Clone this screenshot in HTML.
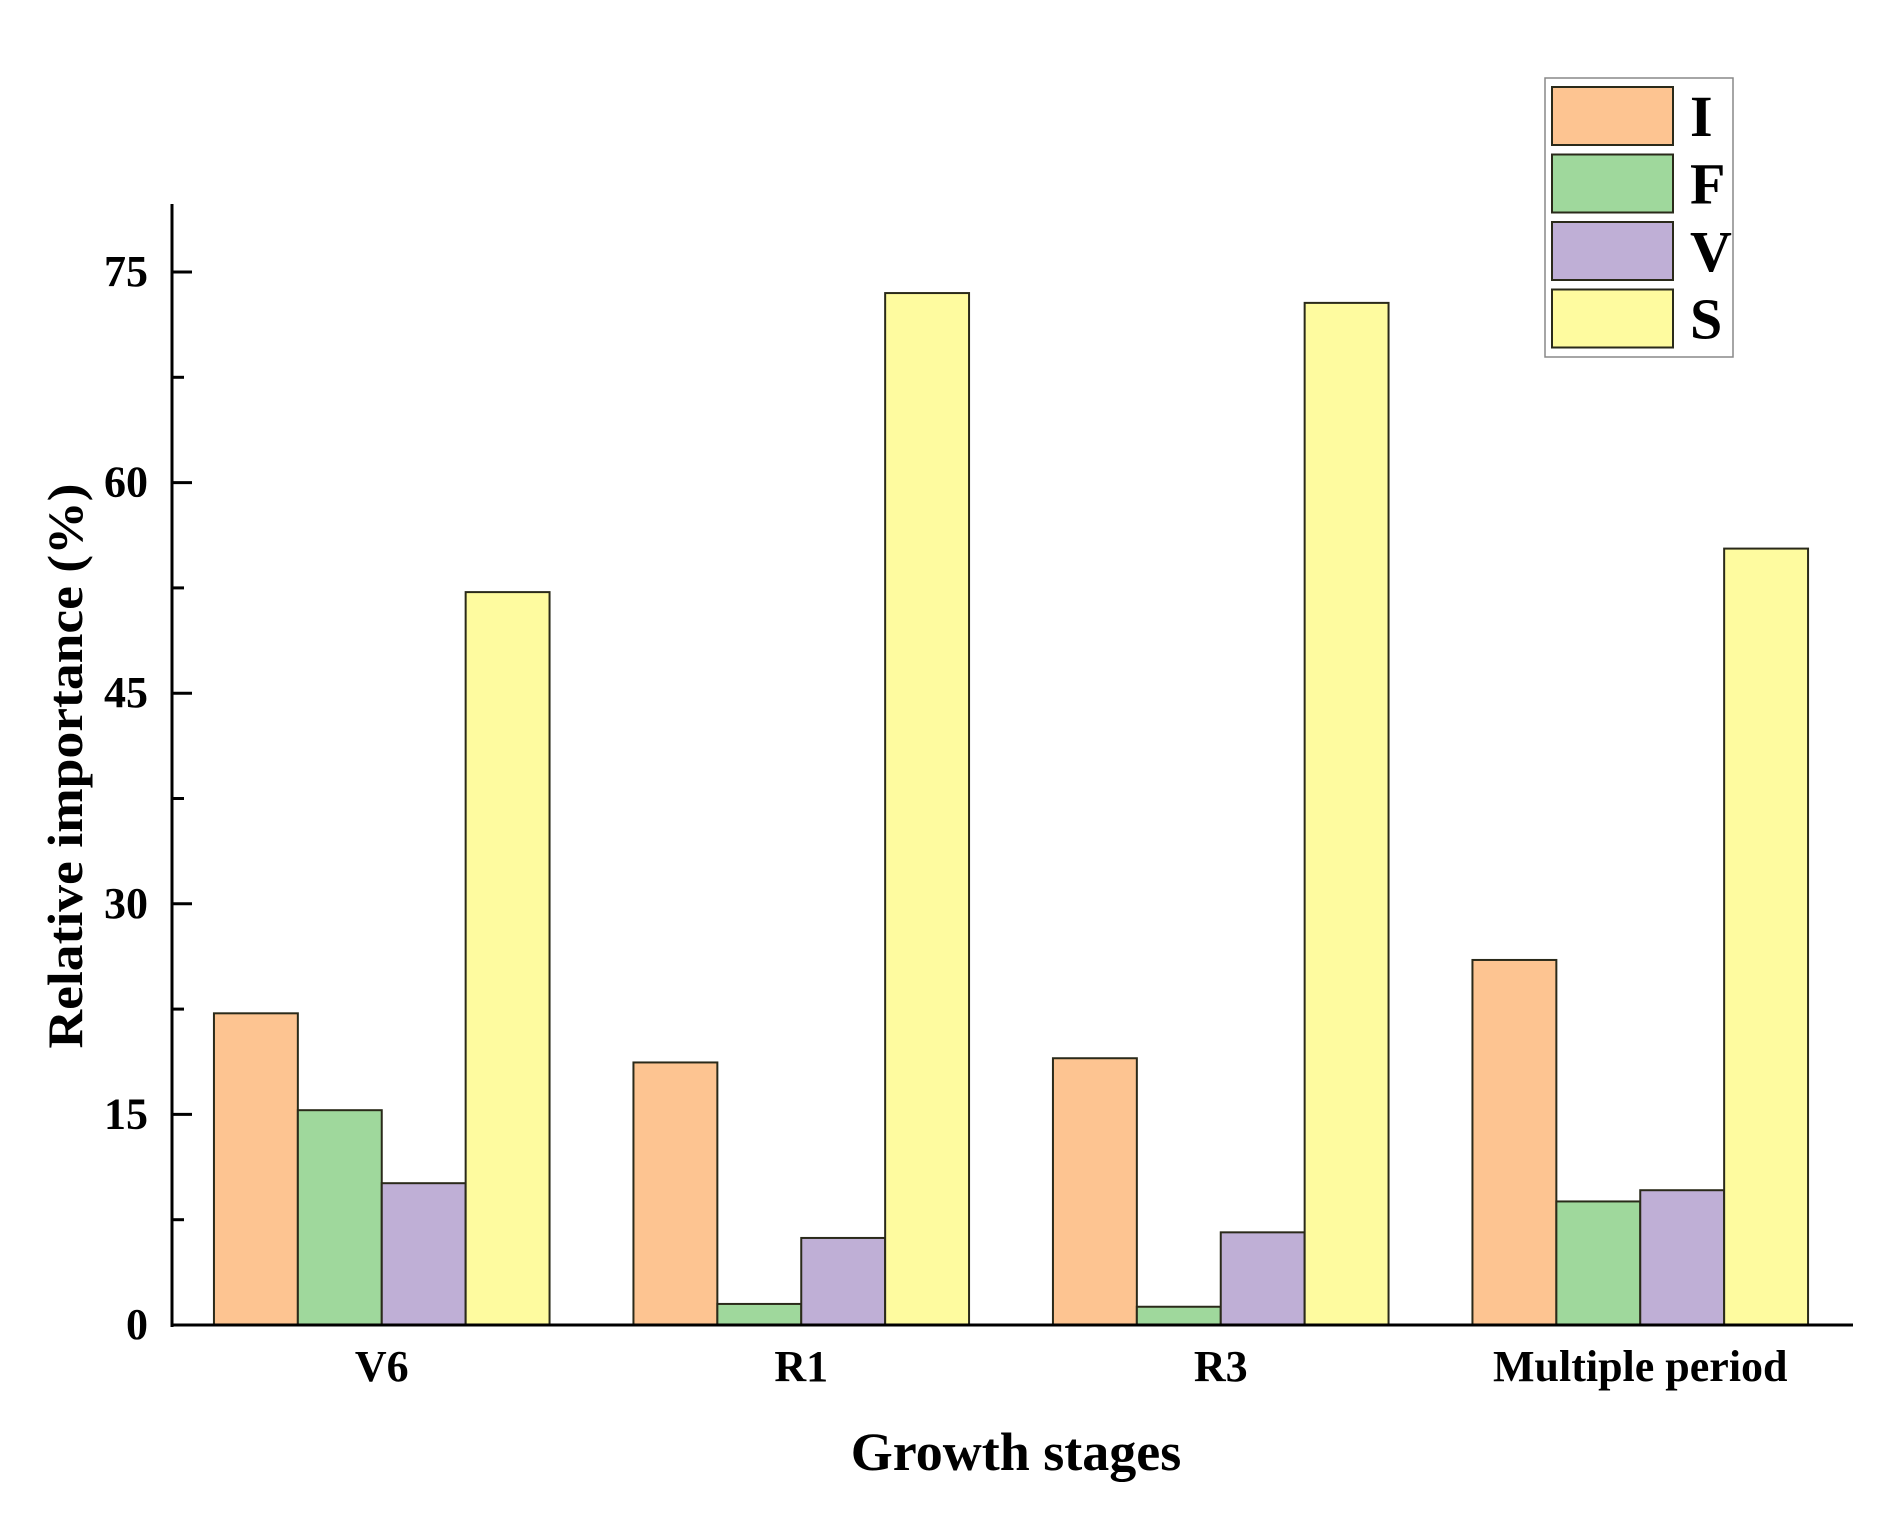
<!DOCTYPE html>
<html><head><meta charset="utf-8"><style>
body{margin:0;background:#fff}
svg text{font-family:"Liberation Serif",serif;font-weight:bold;fill:#000}
</style></head><body>
<svg width="1891" height="1524" viewBox="0 0 1891 1524">
<g id="plot"></g>
<text transform="translate(82,766) rotate(-90)" text-anchor="middle" font-size="50" textLength="565" lengthAdjust="spacingAndGlyphs">Relative importance (%)</text>
<text x="1016" y="1470" text-anchor="middle" font-size="54">Growth stages</text>
<g>
<rect x="1545" y="78" width="188" height="279" fill="#fff" stroke="#888" stroke-width="1.5"/>
<g id="legend"></g>
</g>
</svg>
<script>
const categories=["V6","R1","R3","Multiple period"];
const seriesNames=["I","F","V","S"];
const seriesColors=["#fdc491","#9fd89c","#bfafd6","#fefb9f"];
const valuesI=[22.2,18.7,19.0,26.0];
const valuesF=[15.3,1.5,1.3,8.8];
const valuesV=[10.1,6.2,6.6,9.6];
const valuesS=[52.2,73.5,72.8,55.3];
const yTicks=[0,15,30,45,60,75];
const series=[valuesI,valuesF,valuesV,valuesS];
const NS="http://www.w3.org/2000/svg";
const x0=172,x1=1850,axisEnd=1853,y0=1325,yTopVal=75,yTopPx=272,axisTop=204;
const y=v=>y0-(v/yTopVal)*(y0-yTopPx);
const band=(x1-x0)/categories.length;
const g=document.getElementById('plot');
function mk(tag,attrs){const e=document.createElementNS(NS,tag);for(const k in attrs)e.setAttribute(k,attrs[k]);return e;}
const bw=band*0.8/series.length;
categories.forEach((c,ci)=>{
  const start=x0+band*ci+band*0.1;
  series.forEach((s,si)=>{
    const r=mk('rect',{x:start+si*bw,y:y(s[ci]),width:bw,height:y0-y(s[ci]),fill:seriesColors[si],stroke:'#2a2a1a','stroke-width':2});
    
    
    g.appendChild(r);
  });
  const t=mk('text',{x:x0+band*(ci+0.5),y:1381,'text-anchor':'middle','font-size':44});
  t.textContent=c;
  
  
  g.appendChild(t);
});
for(let v=0;v<=75;v+=7.5){
  const major=yTicks.includes(v);
  const l=mk('line',{x1:x0,x2:x0+(major?20:12),y1:y(v),y2:y(v),stroke:'#000','stroke-width':3});
  
  
  g.appendChild(l);
}
yTicks.forEach(v=>{
  const t=mk('text',{x:148,y:y(v)+14,'text-anchor':'end','font-size':44});
  t.textContent=v;
  
  
  g.appendChild(t);
});
const ya=mk('line',{x1:x0,x2:x0,y1:axisTop,y2:y0+2,stroke:'#000','stroke-width':3});


g.appendChild(ya);
const xa=mk('line',{x1:x0-1,x2:axisEnd,y1:y0,y2:y0,stroke:'#000','stroke-width':3});


g.appendChild(xa);
const lg=document.getElementById('legend');
seriesNames.forEach((n,i)=>{
  const yy=87+i*67.5;
  const r=mk('rect',{x:1552,y:yy,width:121,height:58,fill:seriesColors[i],stroke:'#2a2a1a','stroke-width':2});
  
  
  lg.appendChild(r);
  const t=mk('text',{x:1690,y:yy+49,'font-size':58});
  t.textContent=n;
  
  
  lg.appendChild(t);
});
</script>
</body></html>
